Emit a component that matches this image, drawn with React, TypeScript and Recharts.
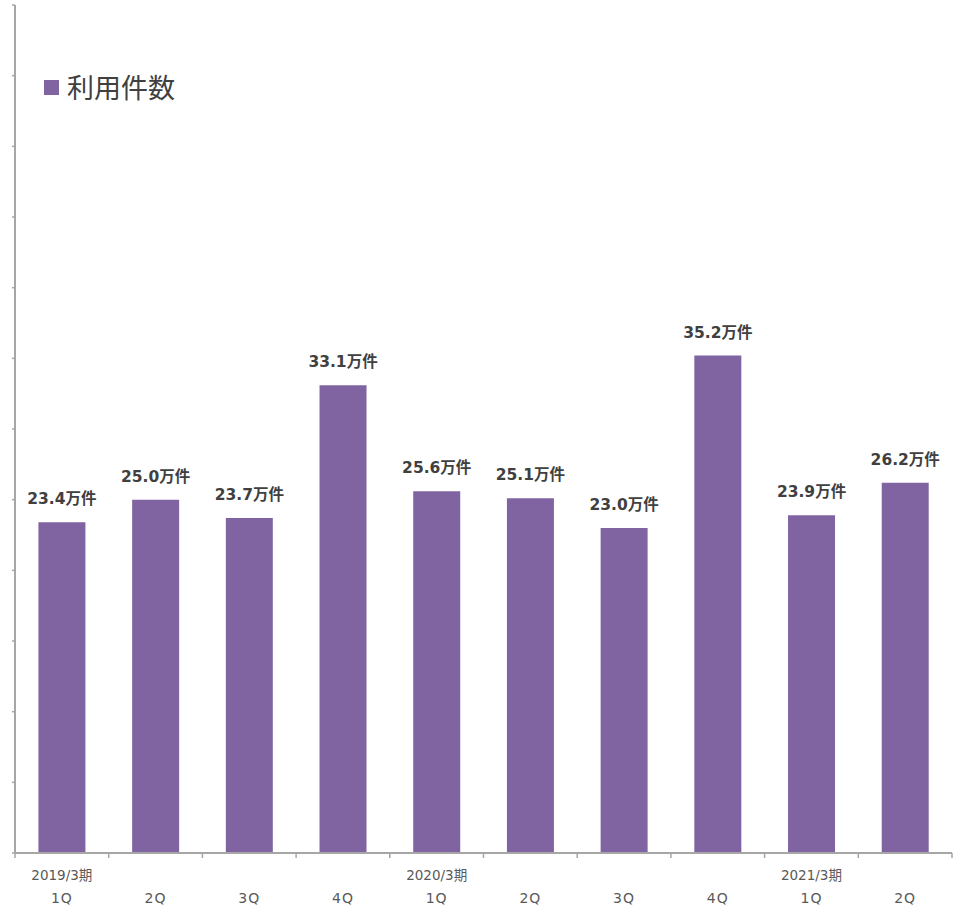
import { BarChart, Bar, XAxis, YAxis, LabelList } from 'recharts';

const quarters = ['1Q', '2Q', '3Q', '4Q', '1Q', '2Q', '3Q', '4Q', '1Q', '2Q'];
const periods = ['2019/3期', '', '', '', '2020/3期', '', '', '', '2021/3期', ''];
const usage = [23.4, 25.0, 23.7, 33.1, 25.6, 25.1, 23.0, 35.2, 23.9, 26.2];
const yTicks = [0, 5, 10, 15, 20, 25, 30, 35, 40, 45, 50, 55, 60];

const data = quarters.map((q, i) => ({ q, period: periods[i], value: usage[i] }));

const W = 961;
const H = 912;
const M = { top: 5, right: 9, left: 0, bottom: 0 };
const Y_W = 15;
const BAND = (W - M.left - M.right - Y_W) / quarters.length;

const PURPLE = '#8064A2';
const AXIS = '#a6a6a6';
const FONT = '"DejaVu Sans", Verdana, "Noto Sans CJK JP", sans-serif';

const XTick = (props: any) => {
  const { x, y, index } = props;
  const left = x - BAND / 2;
  const right = x + BAND / 2;
  const d = data[index];
  return (
    <g>
      <line x1={left} y1={y} x2={left} y2={y + 5} stroke={AXIS} strokeWidth={1.5} />
      {index === data.length - 1 && (
        <line x1={right} y1={y} x2={right} y2={y + 5} stroke={AXIS} strokeWidth={1.5} />
      )}
      {d.period && (
        <text x={x} y={y + 27} textAnchor="middle" fill="#595959" fontSize={13.5} fontFamily={FONT}>
          {d.period}
        </text>
      )}
      <text x={x} y={y + 50} textAnchor="middle" fill="#595959" fontSize={14} letterSpacing={1} fontFamily={FONT}>
        {d.q}
      </text>
    </g>
  );
};

const App = () => {
  return (
    <div style={{ position: 'absolute', left: 0, top: 0, background: '#fff', width: W, height: H }}>
      <BarChart width={W} height={H} data={data} margin={M} barCategoryGap="25%">
        <XAxis
          dataKey="q"
          interval={0}
          height={59}
          axisLine={{ stroke: AXIS, strokeWidth: 2 }}
          tickLine={false}
          tickSize={0}
          tickMargin={0}
          tick={<XTick />}
        />
        <YAxis
          width={Y_W}
          domain={[0, 60]}
          ticks={yTicks}
          tick={() => <g />}
          tickSize={3}
          tickLine={{ stroke: AXIS, strokeWidth: 1.5 }}
          axisLine={{ stroke: AXIS, strokeWidth: 2 }}
        />
        <Bar dataKey="value" fill={PURPLE} isAnimationActive={false}>
          <LabelList
            dataKey="value"
            position="top"
            offset={18}
            formatter={(v: any) => `${Number(v).toFixed(1)}万件`}
            fill="#404040"
            fontSize={15.5}
            fontWeight="bold"
            fontFamily={FONT}
          />
        </Bar>
      </BarChart>
      <div
        style={{
          position: 'absolute',
          left: 44,
          top: 72,
          display: 'flex',
          alignItems: 'center',
          fontFamily: '"Noto Sans CJK JP", sans-serif',
        }}
      >
        <span style={{ width: 15, height: 15, background: PURPLE, display: 'inline-block', marginRight: 8 }} />
        <span style={{ fontSize: 27, color: '#404040', lineHeight: '30px' }}>利用件数</span>
      </div>
    </div>
  );
};

export default App;
